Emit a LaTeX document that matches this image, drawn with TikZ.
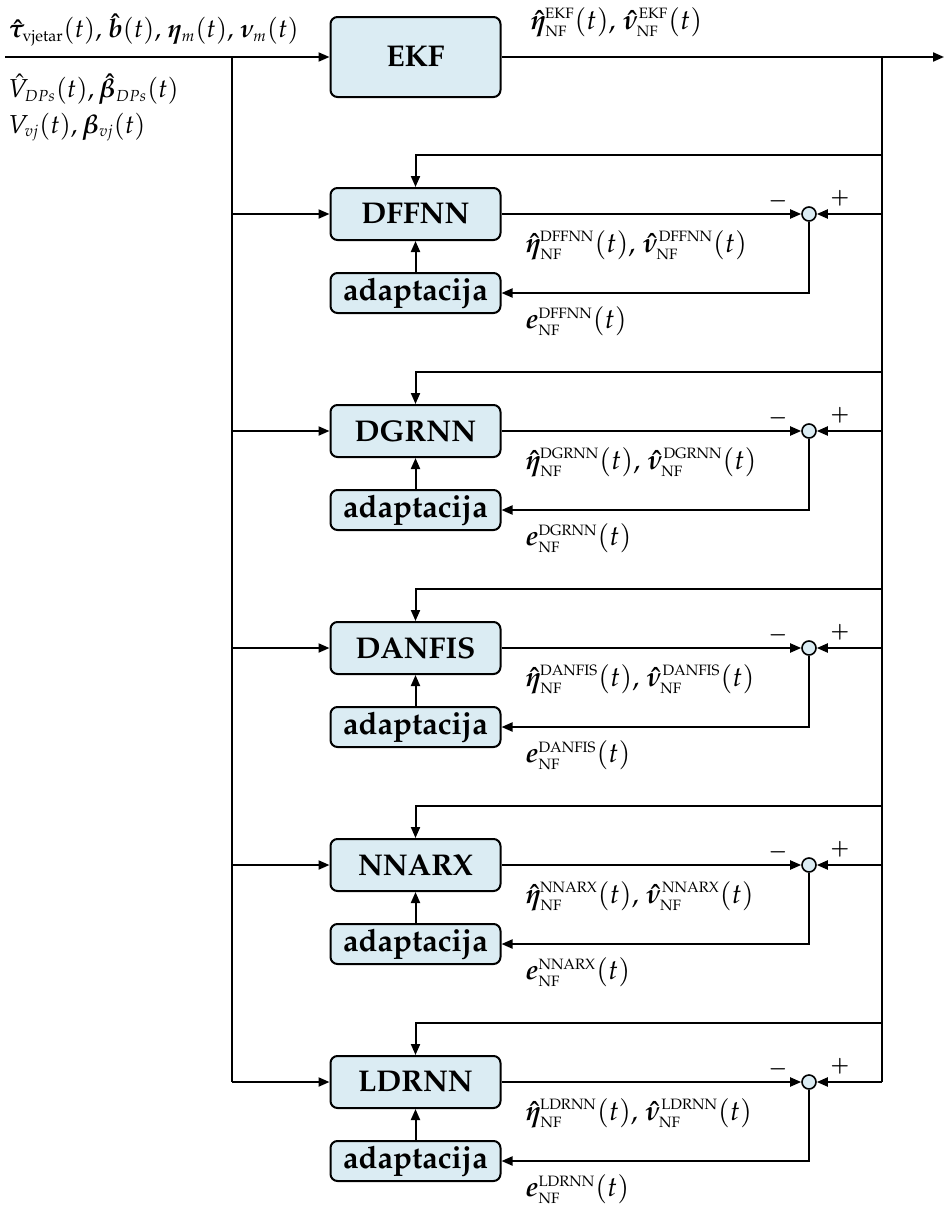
\documentclass[tikz,border=0pt]{standalone}
\usepackage[T1]{fontenc}
\usepackage{amsmath}
\usepackage{mathpazo}
\usepackage{bm}
\usetikzlibrary{arrows.meta}
\definecolor{boxblue}{RGB}{219,236,243}
\DeclareMathSizes{13}{13}{8}{6}
\DeclareMathSizes{14}{14}{8.5}{6}
\newcommand{\sups}[1]{\text{\fontsize{7.5}{8}\selectfont #1}}
\begin{document}
\begin{tikzpicture}[x=0.5pt,y=-0.5pt,
  blk/.style={draw,line width=1pt,rounded corners=3.5pt,fill=boxblue,minimum width=85pt,minimum height=26pt,inner sep=0pt,font=\fontsize{15}{17}\selectfont\bfseries},
  adp/.style={blk,minimum height=20pt,font=\fontsize{15.5}{17}\selectfont\bfseries},
  sumc/.style={circle,draw,line width=0.8pt,fill=boxblue,minimum size=7pt,inner sep=0pt},
  arr/.style={line width=1pt,-{Triangle[length=5.5pt,width=4.5pt]}},
  ln/.style={line width=1pt},
  lab/.style={anchor=west,inner sep=0pt,font=\fontsize{14}{16}\selectfont},
  labs/.style={lab,font=\fontsize{13}{15}\selectfont},
  sgn/.style={inner sep=0pt,font=\fontsize{10}{11}\selectfont}]
\useasboundingbox (0,0) rectangle (944,1210);
% EKF
\node[blk,minimum height=40pt] (ekf) at (415.5,57) {EKF};
\coordinate (inS) at (5,57);
\coordinate (outE) at (944,57);
\coordinate (lt) at (232,57);
\coordinate (lb) at (232,1082);
\coordinate (rt) at (882,57);
\coordinate (rb) at (882,1082);
\draw[arr] (inS) -- (ekf.west);
\draw[arr] (ekf.east) -- (outE);
\draw[ln] (lt) -- (lb);
\draw[ln] (rt) -- (rb);
\node[labs] (lin1) at (8,30) {$\bm{\hat\tau}_{\mathrm{vjetar}}(t)$, $\bm{\hat b}(t)$, $\bm{\eta}_m(t)$, $\bm{\nu}_m(t)$};
\node[labs] (lin2) at (8,89) {$\hat V_{DPs}(t), \bm{\hat\beta}_{DPs}(t)$};
\node[labs] (lin3) at (8,127) {$V_{vj}(t), \bm{\beta}_{vj}(t)$};
\node[lab] (lekf) at (530,22) {$\bm{\hat\eta}^{\sups{EKF}}_{\sups{NF}}(t)$, $\bm{\hat\nu}^{\sups{EKF}}_{\sups{NF}}(t)$};
% blocks
\foreach \nm [count=\k from 0] in {DFFNN,DGRNN,DANFIS,NNARX,LDRNN} {
  \pgfmathsetmacro\yc{214+217*\k}
  \node[blk] (b\k) at (415.5,\yc) {\nm};
  \node[adp] (a\k) at (415.5,\yc+79) {adaptacija};
  \node[sumc] (s\k) at (809,\yc) {};
  \coordinate (fb\k) at (882,\yc-59);
  \coordinate (in\k) at (232,\yc);
  \coordinate (rp\k) at (882,\yc);
  \draw[arr] (fb\k) -| (b\k.north);
  \draw[arr] (in\k) -- (b\k.west);
  \draw[arr] (b\k.east) -- (s\k.west);
  \draw[arr] (rp\k) -- (s\k.east);
  \draw[arr] (s\k.south) |- (a\k.east);
  \draw[arr] (a\k.north) -- (b\k.south);
  \node[sgn] (m\k) at (778,\yc-13) {$\bm{-}$};
  \node[sgn] (p\k) at (840,\yc-16) {$\bm{+}$};
  \node[lab] (o\k) at (525,\yc+31) {$\bm{\hat\eta}^{\sups{\nm}}_{\sups{NF}}(t)$, $\bm{\hat\nu}^{\sups{\nm}}_{\sups{NF}}(t)$};
  \node[lab] (e\k) at (525,\yc+107) {$\bm{e}^{\sups{\nm}}_{\sups{NF}}(t)$};
}
\end{tikzpicture}
\end{document}
